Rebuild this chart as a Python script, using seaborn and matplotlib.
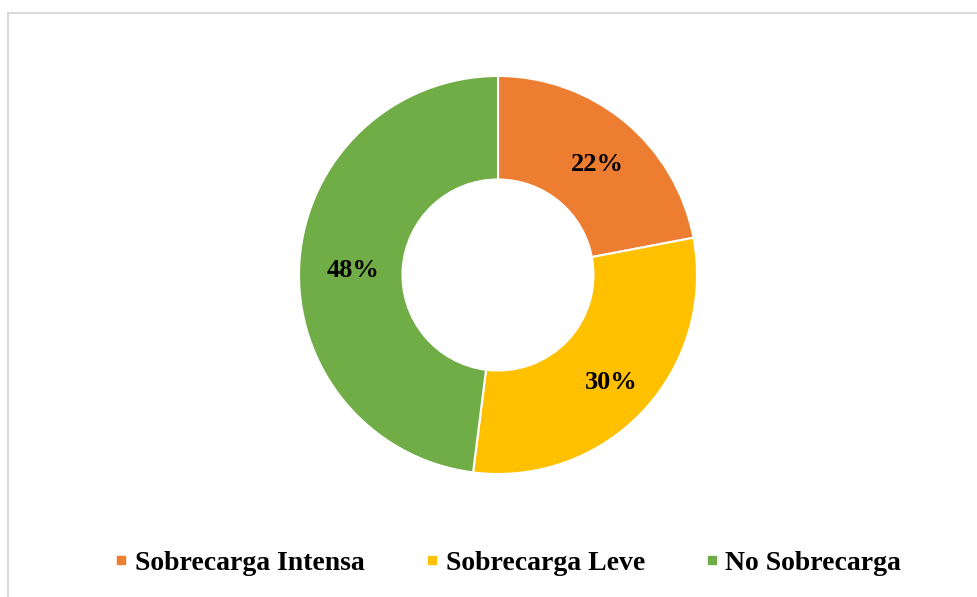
import numpy as np
import pandas as pd
import matplotlib.pyplot as plt
import seaborn as sns
from matplotlib.lines import Line2D
from matplotlib.patches import Rectangle

categories = ["Sobrecarga Intensa", "Sobrecarga Leve", "No Sobrecarga"]
values = [22, 30, 48]
colors = ["#ED7D31", "#FFC000", "#70AD47"]

sns.set_theme(style="white")
plt.rcParams['font.family'] = ['Liberation Serif', 'DejaVu Serif']
plt.rcParams['text.color'] = 'black'

W, H = 978, 597
fig = plt.figure(figsize=(W / 100, H / 100), dpi=100)

# light frame (only top/left edges visible in the reference)
fig.patches.append(Rectangle((8 / W, -0.1), 1.2, 1.1 - 13 / H, transform=fig.transFigure,
                             fill=False, edgecolor="#d9d9d9", linewidth=1.5))

cx, cy, r = 498, 275, 199
ax = fig.add_axes([(cx - r) / W, (H - cy - r) / H, 2 * r / W, 2 * r / H])

wedges, texts, autotexts = ax.pie(values, colors=colors, startangle=90, counterclock=False,
                                  autopct=lambda p: f"{p:.0f}%", pctdistance=0.75,
                                  wedgeprops=dict(width=0.52, edgecolor="white", linewidth=1.5),
                                  textprops=dict(fontsize=19, fontweight="bold", color="black"))
# labels sit a touch lower in the reference
for t in autotexts:
    x, y = t.get_position()
    t.set_position((x + 0.02, y - 0.025))
ax.set_xlim(-1, 1)
ax.set_ylim(-1, 1)
ax.axis("off")

handles = [Line2D([], [], marker="s", linestyle="none", markersize=6,
                  markerfacecolor=c, markeredgecolor=c) for c in colors]
fig.legend(handles, categories, loc="center", bbox_to_anchor=(0.52, 1 - 563 / H), ncol=3,
           frameon=False, prop=dict(size=20, weight="bold"), handletextpad=0.3,
           columnspacing=2.2, handlelength=0.4, labelcolor="black")

fig.savefig("out.png", dpi=100)
